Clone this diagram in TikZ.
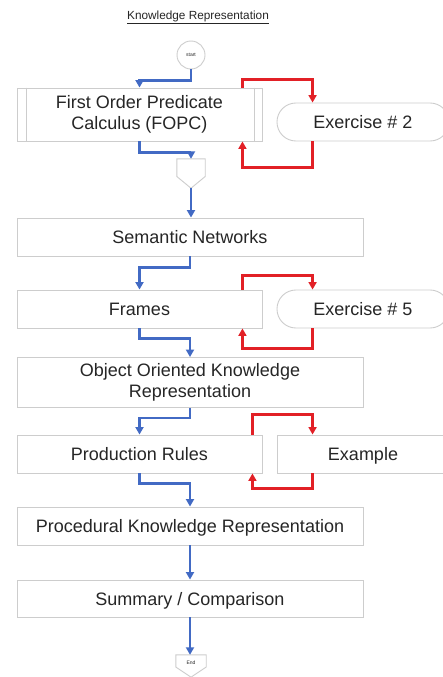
\documentclass[tikz,border=0pt]{standalone}
\usepackage{fontspec}
\setmainfont{Liberation Sans}
\usetikzlibrary{arrows.meta,calc}
\definecolor{flowblue}{RGB}{66,106,196}
\definecolor{loopred}{RGB}{226,32,38}
\definecolor{boxgray}{RGB}{205,205,205}
\definecolor{ink}{RGB}{38,38,38}
% label without descender depth, so it sits centred like the others
\newcommand{\nodepth}[1]{\raisebox{0pt}[\height][0pt]{#1}}

\begin{document}
\begin{tikzpicture}[x=1pt,y=-1pt,
  box/.style={draw=boxgray,line width=0.9pt,fill=white,text=ink,
    font=\fontsize{18}{21.5}\selectfont,align=center,inner sep=0pt},
  widebox/.style={box,minimum width=346pt,minimum height=38pt},
  narrowbox/.style={box,minimum width=245pt,minimum height=38pt},
  sidebox/.style={box,minimum width=172pt,minimum height=38pt},
  pill/.style={sidebox,rounded corners=18.9pt},
  tiny/.style={text=ink,font=\fontsize{5}{6}\selectfont,inner sep=0pt},
  shapeline/.style={draw=boxgray,line width=0.9pt,fill=white},
  blueflow/.style={draw=flowblue,line width=2.3pt,
    -{Triangle[length=7.5pt,width=8pt]}},
  redflow/.style={draw=loopred,line width=2.3pt,
    -{Triangle[length=7.5pt,width=8pt]}}]
\useasboundingbox (0,0) rectangle (443,677);
\clip (0,0) rectangle (443,677);
\fill[white] (0,0) rectangle (443,677);

% heading
\node[text=ink,font=\fontsize{11.8}{14}\selectfont] (title) at (198,17)
  {\underline{Knowledge Representation}};

% start terminal
\node[shapeline,circle,minimum size=28pt,inner sep=0pt] (start) at (191,55) {};
\node[tiny] at (start) {start};

% main chain
\node[box,minimum width=245pt,minimum height=53pt] (fopc) at (139.5,114.5)
  {First Order Predicate\\Calculus (FOPC)};
\draw[boxgray,line width=0.9pt]
  ($(fopc.north west)+(10,0)$) -- ($(fopc.south west)+(10,0)$)
  ($(fopc.north east)+(-8,0)$) -- ($(fopc.south east)+(-8,0)$);

% off-page connector
\node[inner sep=0pt,minimum width=28pt,minimum height=29pt] (off) at (191,173.5) {};
\draw[shapeline] (off.north west) -- (off.north east) -- ($(off.east)+(0,3)$)
  -- (off.south) -- ($(off.west)+(0,3)$) -- cycle;

\node[widebox] (sn) at (190,237) {Semantic Networks};
\node[narrowbox] (frames) at (139.5,309) {Frames};
\node[box,minimum width=346pt,minimum height=50pt] (ookr) at (190,382.5)
  {Object Oriented Knowledge\\Representation};
\node[narrowbox] (pr) at (139.5,454) {Production Rules};
\node[widebox] (pkr) at (190,526)
  {\nodepth{Procedural Knowledge Representation}};
\node[box,minimum width=346pt,minimum height=37pt] (summ) at (190,598.5)
  {\nodepth{Summary / Comparison}};

% end terminal
\node[inner sep=0pt,minimum width=30pt,minimum height=22pt] (end) at (191,666) {};
\draw[shapeline] (end.north west) -- (end.north east) -- ($(end.east)+(0,1)$)
  -- (end.south) -- ($(end.west)+(0,1)$) -- cycle;
\node[tiny] at ($(end)+(0,-3)$) {End};

% side boxes
\node[pill] (ex2) at (363,122) {Exercise \# 2};
\node[pill] (ex5) at (363,309) {Exercise \# 5};
\node[sidebox] (example) at (363,454) {\nodepth{Example}};

% main flow
\draw[blueflow] (start.south) -- ++(0,11) -| (fopc.north);
\draw[blueflow] (fopc.south) -- ++(0,11) -| (off.north);
\draw[blueflow] (off.south) -- (off.south |- sn.north);
\draw[blueflow] (sn.south) -- ++(0,11) -| (frames.north);
\draw[blueflow] (frames.south) -- ++(0,10) -| (ookr.north);
\draw[blueflow] (ookr.south) -- ++(0,10) -| (pr.north);
\draw[blueflow] (pr.south) -- ++(0,10) -| (pkr.north);
\draw[blueflow] (pkr.south) -- (summ.north);
\draw[blueflow] (summ.south) -- (summ.south |- end.north);

% side loops
\draw[redflow] ($(fopc.north east)+(-20,0)$) -- ++(0,-8) -| ($(ex2.north west)+(36,0)$);
\draw[redflow] ($(ex2.south west)+(36,0)$) -- ++(0,26) -| ($(fopc.south east)+(-20,0)$);
\draw[redflow] ($(frames.north east)+(-20,0)$) -- ++(0,-14) -| ($(ex5.north west)+(36,0)$);
\draw[redflow] ($(ex5.south west)+(36,0)$) -- ++(0,20) -| ($(frames.south east)+(-20,0)$);
\draw[redflow] ($(pr.north east)+(-10,0)$) -- ++(0,-20) -| ($(example.north west)+(36,0)$);
\draw[redflow] ($(example.south west)+(36,0)$) -- ++(0,15) -| ($(pr.south east)+(-10,0)$);
\end{tikzpicture}
\end{document}
